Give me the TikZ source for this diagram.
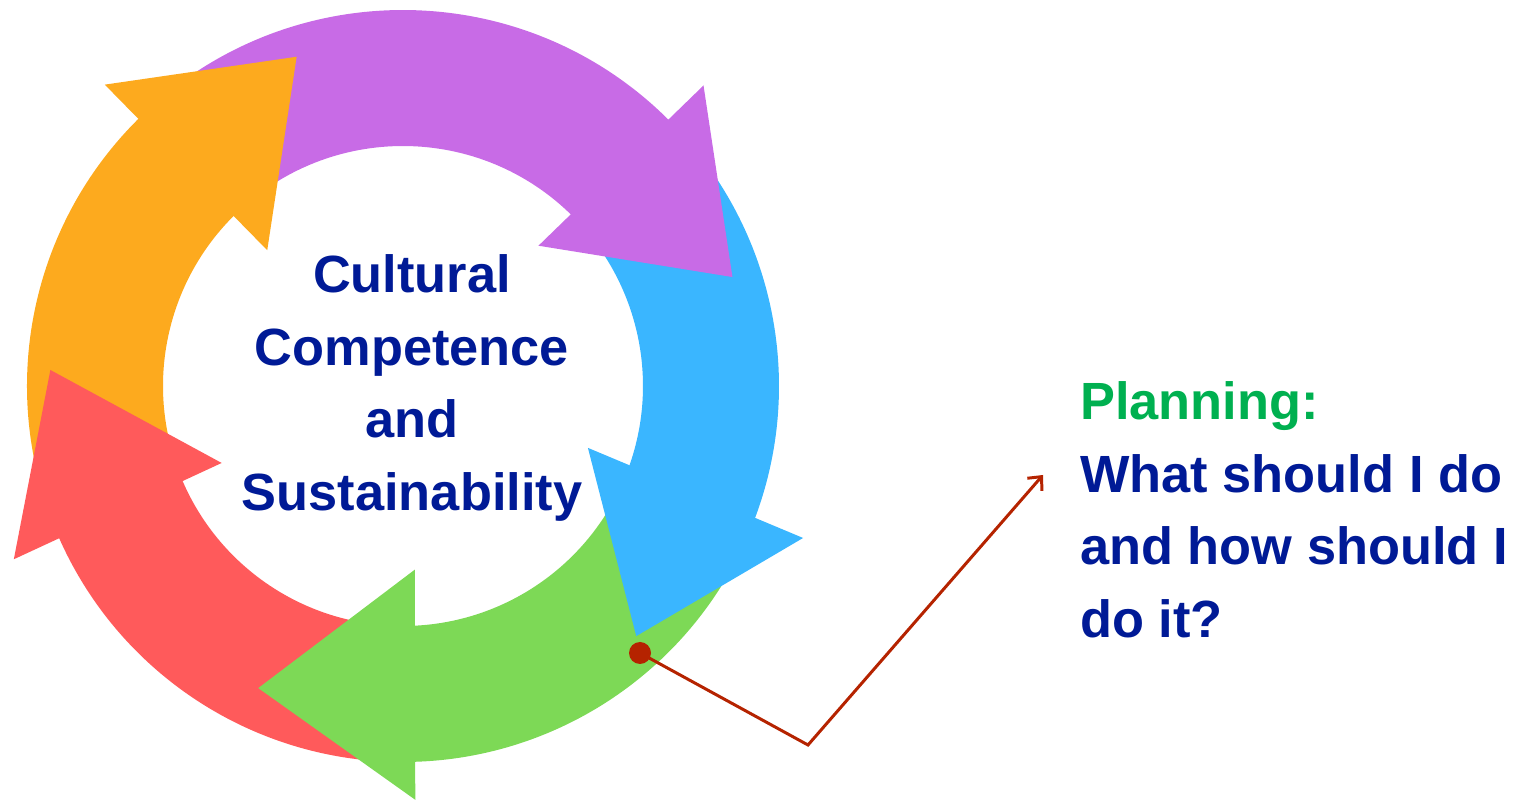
\documentclass[tikz,border=0pt]{standalone}
\usepackage{fontspec}
\setmainfont{Liberation Sans}
\usepackage{xcolor}
\usepackage{tikz}
\usetikzlibrary{positioning,arrows.meta}

\definecolor{ringorange}{HTML}{FDAA1E}
\definecolor{ringpurple}{HTML}{C86BE6}
\definecolor{ringblue}{HTML}{3AB6FF}
\definecolor{ringgreen}{HTML}{7DD956}
\definecolor{ringred}{HTML}{FF5A5B}
\definecolor{navytext}{HTML}{001A96}
\definecolor{plangreen}{HTML}{00B050}
\definecolor{pointer}{HTML}{B52300}

\tikzset{
  bigtext/.style={inner sep=0pt, text=navytext, font=\fontsize{29.8}{41.4}\selectfont\bfseries},
  pointerline/.style={draw=pointer, line width=1.7pt, line join=miter},
  pointerdot/.style={circle, fill=pointer, minimum size=0.44cm, inner sep=0pt},
}

\begin{document}
\begin{tikzpicture}[x=0.02cm, y=0.02cm]
\useasboundingbox (0,0) rectangle (1522,801);

\begin{scope}[shift={(403,415)}]
\foreach \col/\from/\to in {ringorange/202/133, ringpurple/133/43.5, ringblue/43.5/-21.5,
                            ringgreen/-21.5/-89.5, ringred/-89.5/-158}
  \fill[\col] (\from:376) arc[start angle=\from, end angle=\to, radius=376]
    -- (\to:240) arc[start angle=\to, end angle=\from, radius=240] -- cycle;

\foreach \col/\ai/\ri/\ao/\ro/\at/\rt in {ringorange/135/192/134.7/424/107.9/346,
                                         ringpurple/46/195/45/425/18.3/347,
                                         ringblue/-18.5/195/-20.8/428/-47/342,
                                         ringgreen/-86.3/184/-88.3/414/-115.6/335,
                                         ringred/-157/197/-156/426/-182.6/353}
  \fill[\col] (\ai:\ri) -- (\ao:\ro) -- (\at:\rt) -- cycle;
\end{scope}

\node[bigtext, align=center] (centre) at (412,413)
  {Cultural\\Competence\\and\\Sustainability};

\node[bigtext, align=left, anchor=north west] (planning) at (1080,420)
  {\textcolor{plangreen}{Planning:}\\What should I do\\and how should I\\do it?};

\node[pointerdot] (dot) at (640,148) {};
\coordinate (bend) at (808,56);
\coordinate (tip) at (1043,326);
\draw[pointerline, -{Straight Barb[length=6pt, width=11pt]}] (dot.center) -- (bend) -- (tip);

\end{tikzpicture}
\end{document}
